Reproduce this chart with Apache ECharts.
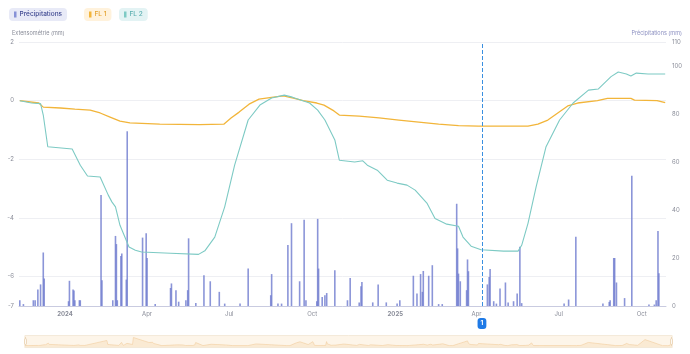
<!DOCTYPE html>
<html>
<head>
<meta charset="utf-8">
<script src="https://cdn.jsdelivr.net/npm/echarts@6/dist/echarts.min.js"></script>
<style>
html,body{margin:0;padding:0;background:#fff;}
#chart{width:690px;height:354px;}
</style>
</head>
<body>
<div id="chart"></div>
<script>
// ---- Data ----
const seriesNames = ['Précipitations', 'FL 1', 'FL 2'];

const precipDates = [
 '2023-11-12','2023-11-16','2023-11-27','2023-11-29','2023-12-02','2023-12-05','2023-12-08','2023-12-09',
 '2024-01-05','2024-01-06','2024-01-10','2024-01-11','2024-01-12','2024-01-17','2024-01-18',
 '2024-02-10','2024-02-11','2024-02-23','2024-02-26','2024-02-27','2024-02-28',
 '2024-03-03','2024-03-04','2024-03-09','2024-03-10','2024-03-27','2024-03-31','2024-04-01','2024-04-10',
 '2024-04-27','2024-04-28','2024-05-03','2024-05-06','2024-05-14','2024-05-16','2024-05-17','2024-05-25',
 '2024-06-03','2024-06-10','2024-06-20','2024-06-26','2024-07-13','2024-07-22',
 '2024-08-16','2024-08-17','2024-08-24','2024-08-28','2024-09-04','2024-09-08','2024-09-17','2024-09-22','2024-09-24',
 '2024-10-06','2024-10-07','2024-10-08','2024-10-12','2024-10-15','2024-10-17','2024-10-26',
 '2024-11-09','2024-11-12','2024-11-22','2024-11-24','2024-11-25','2024-12-07','2024-12-13','2024-12-22',
 '2025-01-03','2025-01-06','2025-01-21','2025-01-25','2025-01-29','2025-01-31','2025-02-01','2025-02-07','2025-02-11',
 '2025-02-18','2025-02-22','2025-03-10','2025-03-11','2025-03-12','2025-03-14','2025-03-21','2025-03-22','2025-03-23',
 '2025-04-13','2025-04-15','2025-04-16','2025-04-20','2025-04-23','2025-04-27','2025-05-03','2025-05-06','2025-05-12',
 '2025-05-16','2025-05-19','2025-05-21','2025-07-07','2025-07-12','2025-07-20',
 '2025-08-19','2025-08-26','2025-08-27','2025-08-31','2025-09-01','2025-09-03','2025-09-12','2025-09-20',
 '2025-10-09','2025-10-15','2025-10-17','2025-10-19','2025-10-20'
];
const precipValues = [
 2.4,0.8,2.4,2.4,6.9,9,22.3,11.5,
 2,10.5,6.9,6.5,2.4,2.4,2.4,
 46.3,10.7,2.4,29.2,25.8,2.4,
 20.8,21.9,11,72.8,28.5,30.3,20,0.8,
 7.5,9.4,6.6,1.8,2.4,6.6,28.2,1.2,
 12.8,10.3,5.9,1.0,1.0,15.6,
 4.5,13.3,1,1,25.4,34.5,10.3,35.9,2.4,
 2,36.3,15.6,3.8,4.5,5.4,14.9,
 2.4,11.7,1.5,8.2,10,1.5,9,1.5,
 1,2.4,12.6,5.2,13.3,5.9,14.6,12.6,17,
 0.8,0.8,42.6,24,13.5,10.3,6.6,19.4,14.5,
 9,12.1,15.4,2,1,7.3,9.8,1.5,2,
 5.2,24.7,1.2,1,2.7,28.9,
 1,1.7,2.4,20,20,9.8,3.3,54.3,
 0.6,0.6,2.4,31.3,13.6
];

const fl1Dates = [
 '2023-11-12','2023-12-03','2023-12-08','2023-12-27','2024-01-12','2024-01-29','2024-02-09','2024-02-20',
 '2024-03-02','2024-03-13','2024-04-15','2024-05-29','2024-06-25','2024-07-03','2024-07-12','2024-07-23',
 '2024-08-03','2024-08-19','2024-08-30','2024-09-10','2024-09-21','2024-10-06','2024-10-14','2024-10-25',
 '2024-10-31','2024-11-22','2024-12-14','2025-01-05','2025-01-27','2025-02-18','2025-03-12','2025-04-03',
 '2025-04-25','2025-05-28','2025-06-08','2025-06-19','2025-06-30','2025-07-11','2025-07-22','2025-08-13',
 '2025-08-24','2025-09-19','2025-09-23','2025-10-18','2025-10-27'
];
const fl1Values = [
 0.0,-0.08,-0.22,-0.25,-0.29,-0.32,-0.42,-0.56,
 -0.70,-0.76,-0.80,-0.82,-0.80,-0.59,-0.39,-0.12,
 0.05,0.12,0.16,0.09,0.0,-0.08,-0.15,-0.35,
 -0.49,-0.53,-0.59,-0.66,-0.73,-0.80,-0.85,-0.87,
 -0.87,-0.87,-0.80,-0.66,-0.42,-0.18,-0.08,0.0,
 0.08,0.08,0.02,0.0,-0.07
];

const fl2Dates = [
 '2023-11-12','2023-11-25','2023-12-05','2023-12-08','2023-12-13','2024-01-09','2024-01-18','2024-01-26',
 '2024-02-09','2024-02-18','2024-02-22','2024-02-26','2024-03-02','2024-03-12','2024-03-19','2024-03-26',
 '2024-04-27','2024-05-28','2024-06-04','2024-06-15','2024-06-26','2024-07-07','2024-07-22','2024-08-04',
 '2024-08-17','2024-08-31','2024-09-09','2024-09-28','2024-10-07','2024-10-15','2024-10-26','2024-10-31',
 '2024-11-17','2024-11-26','2024-12-01','2024-12-12','2024-12-23','2025-01-03','2025-01-14','2025-01-23',
 '2025-02-05','2025-02-14','2025-02-27','2025-03-12','2025-03-17','2025-03-26','2025-04-06','2025-05-01',
 '2025-05-17','2025-05-21','2025-05-28','2025-06-06','2025-06-17','2025-07-02','2025-07-17','2025-08-03',
 '2025-08-14','2025-08-28','2025-09-05','2025-09-14','2025-09-19','2025-09-25','2025-10-08','2025-10-27'
];
const fl2Values = [
 0.0,-0.08,-0.1,-0.49,-1.57,-1.65,-2.2,-2.57,
 -2.6,-3.22,-3.45,-3.62,-4.25,-4.99,-5.1,-5.16,
 -5.2,-5.24,-5.12,-4.65,-3.62,-2.2,-0.66,-0.15,
 0.09,0.19,0.12,-0.08,-0.32,-0.66,-1.34,-2.03,
 -2.09,-2.05,-2.2,-2.37,-2.71,-2.81,-2.88,-3.05,
 -3.49,-4.02,-4.21,-4.28,-4.65,-4.96,-5.08,-5.13,
 -5.13,-4.93,-4.18,-2.94,-1.57,-0.66,-0.08,0.36,
 0.4,0.82,0.98,0.91,0.84,0.94,0.91,0.91
];

const eventDate = '2025-04-07';
const eventLabel = '1';
const xMin = '2023-11-12';
const xMax = '2025-10-27';

// ---- Build ----
const zip = (d, v) => d.map((x, i) => [x, v[i]]);
const font = 'Inter, "Noto Sans", sans-serif';
const colors = { p: '#7b86d4', f1: '#f2b53a', f2: '#7dcac4' };
const DAY = 86400000;

function pill(name, left, bg, textColor) {
  return {
    data: [name], left: left, top: 8, orient: 'horizontal',
    backgroundColor: bg, borderRadius: 4, padding: [3, 5, 3, 5],
    itemWidth: 2.5, itemHeight: 6, itemGap: 4, icon: 'rect',
    textStyle: { fontFamily: font, fontSize: 6.5, color: textColor, fontWeight: 500, padding: [0, 0, 0, -2] },
    selectedMode: true
  };
}

const chart = echarts.init(document.getElementById('chart'), null, { renderer: 'canvas' });
chart.setOption({
  animation: false,
  textStyle: { fontFamily: font },
  color: [colors.p, colors.f1, colors.f2],
  legend: [
    pill(seriesNames[0], 9, '#e8eaf7', '#3d4790'),
    pill(seriesNames[1], 84, '#fff2dc', '#e3a02a'),
    pill(seriesNames[2], 119, '#e3f3f4', '#5aaeb0')
  ],
  grid: { left: 19, right: 24, top: 42, bottom: 48 },
  xAxis: {
    type: 'time', min: xMin, max: xMax, splitNumber: 7,
    minInterval: 88 * DAY, maxInterval: 93 * DAY,
    axisLine: { onZero: false, lineStyle: { color: '#c9cbe0' } },
    axisTick: { show: false },
    splitLine: { show: false },
    axisLabel: { fontSize: 6, color: '#8a8d99', margin: 5, hideOverlap: true }
  },
  yAxis: [
    {
      type: 'value', min: -7, max: 2, splitNumber: 5,
      name: 'Extensométrie (mm)', nameLocation: 'end', nameGap: 6,
      nameTextStyle: { fontSize: 5.5, color: '#8a8d99', align: 'left', padding: [0, 0, 0, -7] },
      axisLine: { show: false }, axisTick: { show: false },
      axisLabel: { fontSize: 6, color: '#8a8d99', margin: 5 },
      splitLine: { lineStyle: { color: '#eeeff3' } }
    },
    {
      type: 'value', min: 0, max: 110, splitNumber: 5, position: 'right',
      name: 'Précipitations (mm)', nameLocation: 'end', nameGap: 6,
      nameTextStyle: { fontSize: 5.5, color: '#8b8fc0', align: 'right', padding: [0, -16, 0, 0] },
      axisLine: { show: false }, axisTick: { show: false },
      axisLabel: { fontSize: 6, color: '#8a8d99', margin: 6 },
      splitLine: { show: false }
    }
  ],
  dataZoom: [{
    type: 'slider', xAxisIndex: 0, start: 0, end: 100,
    left: 22, right: 20, bottom: 6, height: 13,
    showDetail: false, brushSelect: false, moveHandleSize: 0,
    borderColor: '#f4ead9', backgroundColor: 'rgba(253,246,236,0.6)',
    fillerColor: 'rgba(250,226,190,0.2)',
    handleSize: '70%',
    handleStyle: { color: '#fff', borderColor: '#ecd6b8' },
    dataBackground: {
      lineStyle: { color: '#efc58f', width: 0.8, opacity: 0.7 },
      areaStyle: { color: '#f5ddbd', opacity: 0.5 }
    },
    selectedDataBackground: {
      lineStyle: { color: '#efc58f', width: 0.8, opacity: 0.7 },
      areaStyle: { color: '#f5ddbd', opacity: 0.5 }
    }
  }],
  series: [
    {
      name: seriesNames[0], type: 'bar', yAxisIndex: 1,
      data: zip(precipDates, precipValues),
      barWidth: 1.6,
      itemStyle: { color: 'rgba(110,122,206,0.8)' },
      markLine: {
        silent: true, symbol: ['none', 'none'],
        lineStyle: { color: '#3a8fe0', type: 'dashed', width: 1 },
        label: {
          show: true, position: 'start', formatter: eventLabel, distance: 12,
          backgroundColor: '#1f7ae6', color: '#fff', fontSize: 6.5, fontWeight: 'bold',
          borderRadius: 3, padding: [2, 3, 2, 3]
        },
        data: [{ xAxis: eventDate }]
      }
    },
    {
      name: seriesNames[1], type: 'line', yAxisIndex: 0,
      data: zip(fl1Dates, fl1Values), showSymbol: false,
      lineStyle: { width: 1.3, color: colors.f1 }, itemStyle: { color: colors.f1 }
    },
    {
      name: seriesNames[2], type: 'line', yAxisIndex: 0,
      data: zip(fl2Dates, fl2Values), showSymbol: false,
      lineStyle: { width: 1.1, color: colors.f2 }, itemStyle: { color: colors.f2 }
    }
  ]
});
</script>
</body>
</html>
